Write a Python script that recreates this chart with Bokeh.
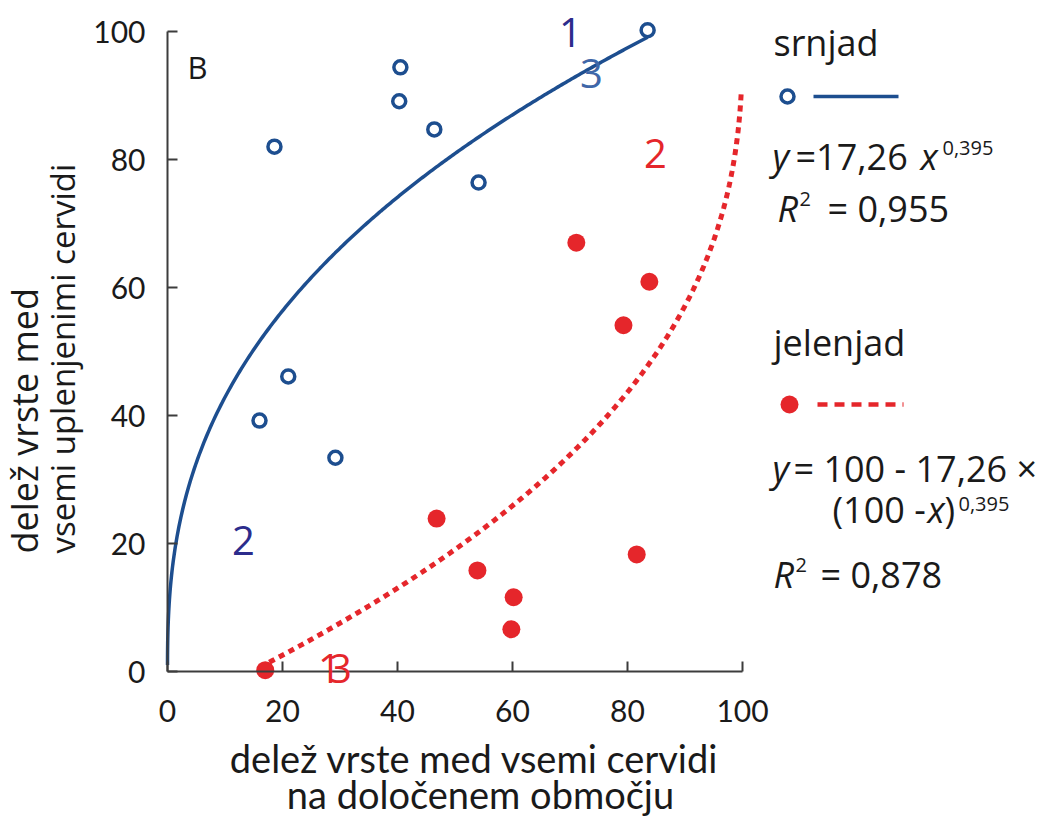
import numpy as np
from bokeh.plotting import figure
from bokeh.models import Range1d, FixedTicker, Label
from bokeh.embed import file_html
from bokeh.resources import INLINE

# ---------------- data ----------------
srnjad_x = [18.6, 40.5, 40.3, 46.4, 54.1, 83.5, 21.0, 16.0, 29.2]
srnjad_y = [82.0, 94.4, 89.1, 84.7, 76.4, 100.2, 46.1, 39.2, 33.4]

jelenjad_x = [17.0, 46.8, 53.9, 60.2, 59.8, 81.6, 71.1, 83.8, 79.3]
jelenjad_y = [0.2, 23.9, 15.8, 11.6, 6.6, 18.3, 67.0, 60.9, 54.1]

# fitted power curve shown in the chart: y = a * x^b ; mirrored for jelenjad
fit_a = 17.26
fit_b = 0.395
srnjad_fit_end = 83.5
jelenjad_fit_start = 16.0
jelenjad_fit_end = 99.8

x_ticks = [0, 20, 40, 60, 80, 100]
y_ticks = [0, 20, 40, 60, 80, 100]

# ---------------- styles / layout ----------------
BLUE = "#1d4e8f"
RED = "#e5262b"
NAVY = "#2c2c8c"
BLUE3 = "#3f67a8"
TXT = "#1a1a1a"
AXIS = "#3c3c3c"

W, H = 1045, 818
X0, XS = 167.0, 5.75     # pixel of x=0, pixels per unit
Y0, YS = 671.0, 6.4      # pixel of y=0, pixels per unit

p = figure(frame_width=W, frame_height=H,
           x_range=Range1d(-X0 / XS, (W - X0) / XS),
           y_range=Range1d((Y0 - H) / YS, Y0 / YS),
           output_backend="svg", toolbar_location=None,
           min_border_left=0, min_border_right=0,
           min_border_top=0, min_border_bottom=0)
p.grid.visible = False
p.outline_line_color = None
p.background_fill_color = "white"

for ax, ticks in ((p.xaxis, x_ticks), (p.yaxis, y_ticks)):
    ax.fixed_location = 0
    ax.bounds = (0, 100)
    ax.ticker = FixedTicker(ticks=ticks)
    ax.major_tick_in = 10
    ax.major_tick_out = 0
    ax.minor_tick_line_color = None
    ax.axis_line_width = 2
    ax.axis_line_color = AXIS
    ax.major_tick_line_width = 2
    ax.major_tick_line_color = AXIS
    ax.major_label_text_font = "Lato"
    ax.major_label_text_font_size = "30px"
    ax.major_label_text_color = TXT
p.xaxis.major_label_standoff = 28
p.yaxis.major_label_standoff = 22


def dx(px):
    return (px - X0) / XS


def dy(py):
    return (Y0 - py) / YS


# ---------------- fit curves ----------------
xs_s = np.concatenate([np.geomspace(0.0008, 1.0, 80), np.linspace(1.0, srnjad_fit_end, 250)[1:]])
ys_s = fit_a * xs_s ** fit_b
p.line(xs_s, ys_s, line_color=BLUE, line_width=3.5)

rem = np.geomspace(100 - jelenjad_fit_start, 100 - jelenjad_fit_end, 400)
xs_j = 100 - rem
ys_j = 100 - fit_a * rem ** fit_b
p.line(xs_j, ys_j, line_color=RED, line_width=5, line_dash="6 5")

# ---------------- points ----------------
p.scatter(srnjad_x, srnjad_y, marker="circle", size=13, line_color=BLUE,
          line_width=3.5, fill_color="white")
p.scatter(jelenjad_x, jelenjad_y, marker="circle", size=18, fill_color=RED,
          line_color=None)


def lab(text, px, py, size, color=TXT, font="Open Sans", italic=False,
        align="left", baseline="alphabetic", angle=0.0):
    # py is the wanted baseline pixel; Bokeh sets alphabetic text ~0.385em lower
    if baseline == "alphabetic":
        py = py - 0.385 * size
    p.add_layout(Label(x=dx(px), y=dy(py), text=text, text_font=font,
                       text_font_size=f"{size}px", text_color=color,
                       text_font_style="italic" if italic else "normal",
                       text_align=align, text_baseline=baseline, angle=angle))


# ---------------- in-plot annotations ----------------
lab("B", 187, 78, 31)
lab("1", 570, 47, 40, color=NAVY, align="center")
lab("3", 591, 88, 40, color=BLUE3, align="center")
lab("2", 655, 168, 40, color=RED, align="center")
lab("2", 243, 555, 40, color=NAVY, align="center")
lab("1", 329, 683, 40, color=RED, align="center")
lab("3", 340, 683, 40, color=RED, align="center")

# ---------------- legend (right side) ----------------
LS = 36
SS = 20
lab("srnjad", 773, 56, LS)
p.scatter([dx(787)], [dy(96)], marker="circle", size=13, line_color=BLUE,
          line_width=3.5, fill_color="white")
p.line([dx(813), dx(898)], [dy(96), dy(96)], line_color=BLUE, line_width=3.5)
lab("y", 772, 170, LS, italic=True)
lab("=17,26", 795, 170, LS)
lab("x", 920, 170, LS, italic=True)
lab("0,395", 942, 155, SS)
lab("R", 777, 222, LS, italic=True)
lab("2", 799, 206, SS)
lab("= 0,955", 827, 222, LS)

lab("jelenjad", 773, 356, LS)
p.scatter([dx(789)], [dy(404)], marker="circle", size=18, fill_color=RED,
          line_color=None)
p.line([dx(817), dx(903)], [dy(404), dy(404)], line_color=RED, line_width=4.5,
       line_dash="10 7")
lab("y", 772, 482, LS, italic=True)
lab("= 100 - 17,26 \u00d7", 793, 482, LS)
lab("(100 -", 832, 523, LS)
lab("x", 927, 523, LS, italic=True)
lab(")", 944, 523, LS)
lab("0,395", 958, 511, SS)
lab("R", 773, 588, LS, italic=True)
lab("2", 795, 572, SS)
lab("= 0,878", 820, 588, LS)

# ---------------- axis titles ----------------
lab("delež vrste med vsemi cervidi", 474, 772, 38, font="Lato", align="center")
lab("na določenem območju", 480, 808, 38, font="Lato", align="center")
lab("delež vrste med", 24, 553, 36, baseline="middle", angle=np.pi / 2)
lab("vsemi uplenjenimi cervidi", 62, 553, 33, baseline="middle", angle=np.pi / 2)

open("out.html", "w").write(file_html(p, INLINE))
